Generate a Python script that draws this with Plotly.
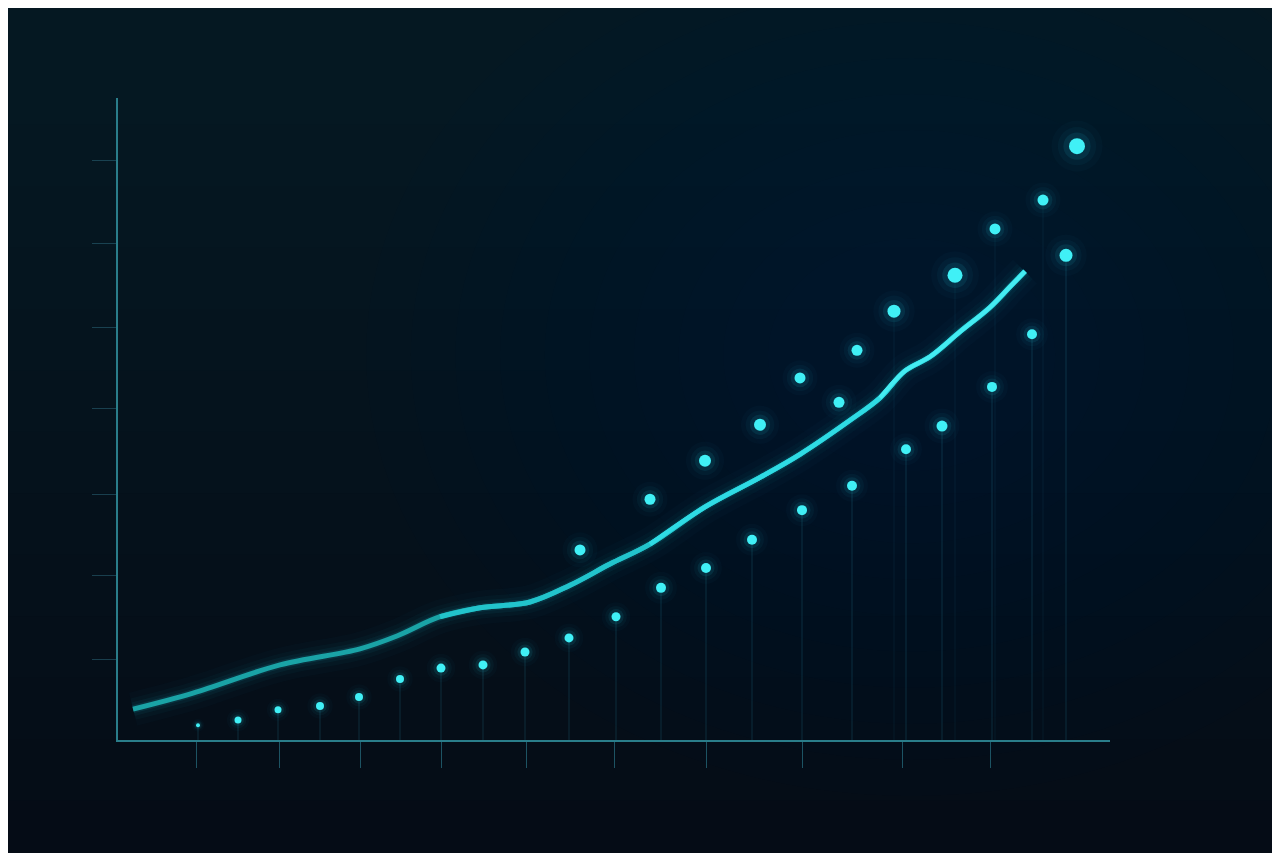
import plotly.graph_objects as go

# ---- data (x in arbitrary units 0..99.2, y in units 0..100) ----
trend_x = [1.5, 7.5, 16.2, 24.2, 27.9, 32.2, 36.2, 41.2, 45.2, 49.2, 53.2, 58.7, 64.2, 68.2, 73.2, 76.2, 78.7, 81.2, 84.2, 87.2, 89.2, 90.7]
trend_y = [4.8, 7.3, 11.7, 14.2, 16.2, 19.2, 20.6, 21.5, 24.1, 27.4, 30.5, 36.3, 40.9, 44.5, 49.8, 53.3, 57.5, 59.7, 63.6, 67.4, 70.6, 73.0]

low_x = [8.0, 12.0, 16.0, 20.2, 24.1, 28.2, 32.3, 36.5, 40.7, 45.1, 49.8, 54.3, 58.8, 63.4, 68.4, 73.4, 78.8, 82.4, 87.4, 91.4, 94.8]
low_y = [2.3, 3.1, 4.7, 5.3, 6.7, 9.5, 11.2, 11.7, 13.7, 15.9, 19.2, 23.7, 26.8, 31.2, 35.8, 39.6, 45.3, 48.9, 55.0, 63.2, 75.5]
low_size = [4, 7, 7, 8, 8, 8, 9, 9, 9, 9, 9, 10, 10, 10, 10, 10, 10, 11, 10, 10, 13]

high_x = [46.2, 53.2, 58.7, 64.2, 68.2, 72.1, 73.9, 77.6, 83.7, 87.7, 92.5, 95.9]
high_y = [29.6, 37.5, 43.5, 49.1, 56.4, 52.6, 60.7, 66.8, 72.4, 79.6, 84.1, 92.5]
high_size = [11, 11, 12, 12, 11, 11, 11, 13, 15, 11, 11, 16]

xtick_vals = [7.8, 16.1, 24.2, 32.3, 40.8, 49.6, 58.8, 68.4, 78.4, 87.2]
ytick_vals = [12.6, 25.7, 38.3, 51.6, 64.2, 77.4, 90.3]

CYAN = "#40f0f6"
BG = "#050c16"
AXIS = "#2a7d8a"

fig = go.Figure()

# vertical background gradient (decorative): lighter toward the top
n = 12
y_bot, y_top = -0.19, 1.15
for i in range(n):
    y0 = y_bot + (y_top - y_bot) * (i + 1) / (n + 2)
    fig.add_shape(type="rect", xref="paper", yref="paper",
                  x0=-0.12, x1=1.19, y0=y0, y1=y_top,
                  fillcolor="rgba(30,80,110,0.018)", line_width=0, layer="below")
# soft glow toward the upper-right
for i in range(10):
    r = 0.55 - i * 0.045
    cx, cy = 0.80, 0.60
    fig.add_shape(type="circle", xref="paper", yref="paper",
                  x0=cx - r, x1=cx + r, y0=cy - r * 1.25, y1=cy + r * 1.25,
                  fillcolor="rgba(20,110,135,0.012)", line_width=0, layer="below")

# drop lines
dx, dy = [], []
for x, y in zip(low_x, low_y):
    dx += [x, x, None]
    dy += [y, 0, None]
fig.add_trace(go.Scatter(x=dx, y=dy, mode="lines",
                         line=dict(color="rgba(50,170,200,0.20)", width=1),
                         hoverinfo="skip", showlegend=False))
ux, uy = [], []
for x, y in zip(high_x[-5:-1], high_y[-5:-1]):
    ux += [x, x, None]
    uy += [y, 0, None]
fig.add_trace(go.Scatter(x=ux, y=uy, mode="lines",
                         line=dict(color="rgba(50,170,200,0.09)", width=1),
                         hoverinfo="skip", showlegend=False))

# trend line glow
for w, a in [(34, 0.02), (22, 0.03), (14, 0.05), (8, 0.10)]:
    fig.add_trace(go.Scatter(x=trend_x, y=trend_y, mode="lines",
                             line=dict(color=f"rgba(40,210,230,{a})", width=w, shape="spline", smoothing=1.0),
                             hoverinfo="skip", showlegend=False))
# trend line core with left-to-right gradient approximation
fig.add_trace(go.Scatter(x=trend_x, y=trend_y, mode="lines",
                         line=dict(color="#1aa3a6", width=5, shape="spline", smoothing=1.0),
                         showlegend=False))
fig.add_trace(go.Scatter(x=trend_x[5:], y=trend_y[5:], mode="lines",
                         line=dict(color="#22c4cc", width=5, shape="spline", smoothing=1.0),
                         showlegend=False))
fig.add_trace(go.Scatter(x=trend_x[10:], y=trend_y[10:], mode="lines",
                         line=dict(color="#2fdbe4", width=4.5, shape="spline", smoothing=1.0),
                         showlegend=False))
fig.add_trace(go.Scatter(x=trend_x[15:], y=trend_y[15:], mode="lines",
                         line=dict(color="#45ecf2", width=4, shape="spline", smoothing=1.0),
                         showlegend=False))

# point glows + points
for xs, ys, ss in [(low_x, low_y, low_size), (high_x, high_y, high_size)]:
    for k, a in [(3.2, 0.025), (2.4, 0.045), (1.7, 0.09)]:
        fig.add_trace(go.Scatter(x=xs, y=ys, mode="markers",
                                 marker=dict(size=[s * k for s in ss], color=f"rgba(40,220,240,{a})", line_width=0, opacity=1),
                                 hoverinfo="skip", showlegend=False))
    fig.add_trace(go.Scatter(x=xs, y=ys, mode="markers",
                             marker=dict(size=ss, color=CYAN, line_width=0, opacity=1),
                             showlegend=False))

fig.update_layout(
    width=1280, height=853,
    paper_bgcolor=BG, plot_bgcolor="rgba(0,0,0,0)",
    margin=dict(l=110, r=178, t=90, b=121),
    showlegend=False,
    xaxis=dict(range=[0, 99.2], showgrid=False, zeroline=False,
               showline=True, linecolor=AXIS, linewidth=2,
               tickmode="array", tickvals=xtick_vals, showticklabels=False,
               ticks="outside", ticklen=26, tickwidth=1, tickcolor="rgba(45,130,150,0.6)"),
    yaxis=dict(range=[0, 100], showgrid=False, zeroline=False,
               showline=True, linecolor=AXIS, linewidth=2,
               tickmode="array", tickvals=ytick_vals, showticklabels=False,
               ticks="outside", ticklen=24, tickwidth=1, tickcolor="rgba(45,110,130,0.5)"),
)

fig.write_html("out.html")
